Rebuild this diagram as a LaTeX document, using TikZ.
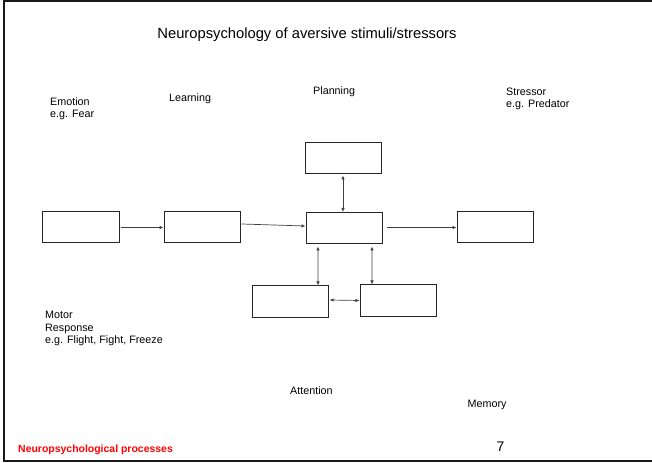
\documentclass[tikz,border=0pt]{standalone}
\usepackage{fontspec}
\setmainfont{Liberation Sans}
\usetikzlibrary{arrows.meta}
\begin{document}
\begin{tikzpicture}[x=1bp,y=-1bp,
  box/.style={draw=black!85,line width=1bp,minimum width=76bp,minimum height=31bp,inner sep=0pt},
  lbl/.style={inner sep=0pt,anchor=base west,align=left,font=\fontsize{10.8}{12.6}\selectfont},
  conn/.style={draw=black!75,line width=0.7bp,-{Latex[length=4bp,width=3.5bp]}},
  conn2/.style={draw=black!75,line width=0.7bp,{Latex[length=4bp,width=3.5bp]}-{Latex[length=4bp,width=3.5bp]}}]
\useasboundingbox (0,0) rectangle (652,463);
% frame
\draw[line width=2bp,black!90] (652,1.5) -- (4,1.5) -- (4,461) -- (652,461);
% title
\node[inner sep=0pt,anchor=base,font=\fontsize{14.8}{17}\selectfont] (title) at (307,38.6) {Neuropsychology of aversive stimuli/stressors};
% labels (base = baseline of last line)
\node[lbl] (emo) at (50,117.6) {Emotion\\e.g. Fear};
\node[lbl] (learn) at (169,101.5) {Learning};
\node[lbl] (plan) at (313,94.7) {Planning};
\node[lbl] (stress) at (506,107.6) {Stressor\\e.g. Predator};
\node[lbl] (motor) at (45,343.9) {Motor\\Response\\e.g. Flight, Fight, Freeze};
\node[lbl] (att) at (290,394.4) {Attention};
\node[lbl] (mem) at (467.5,407) {Memory};
\node[lbl,text=red,font=\fontsize{10.5}{12}\selectfont\bfseries] (proc) at (18,452.7) {Neuropsychological processes};
\node[inner sep=0pt,anchor=base west,font=\fontsize{14}{16}\selectfont] (num) at (496.5,451.7) {7};
% boxes
\node[box] (T) at (343,158.5) {};
\node[box,minimum width=77bp] (A) at (80.5,227.5) {};
\node[box] (B) at (202,227.5) {};
\node[box] (C) at (344,228.5) {};
\node[box] (S) at (495,227.5) {};
\node[box] (BL) at (290,301.5) {};
\node[box] (BR) at (398,300.5) {};
% connectors
\draw[conn] ([xshift=1bp]A.east) -- (B.west);
\draw[conn] ([xshift=1bp,yshift=3.5bp]B.east) -- ([yshift=2.5bp]C.west);
\draw[conn] ([xshift=4bp]C.east |- S.west) -- (S.west);
\draw[conn2] ([yshift=-1bp]T.south) -- ([yshift=0.5bp]C.north -| T.south);
\draw[conn2] ([xshift=-26bp,yshift=-2bp]C.south) -- ([xshift=28bp]BL.north);
\draw[conn2] ([xshift=28bp,yshift=-2bp]C.south) -- ([xshift=-26bp]BR.north);
\draw[conn2] ([xshift=1bp,yshift=1.5bp]BL.east) -- (BR.west);
\end{tikzpicture}
\end{document}
